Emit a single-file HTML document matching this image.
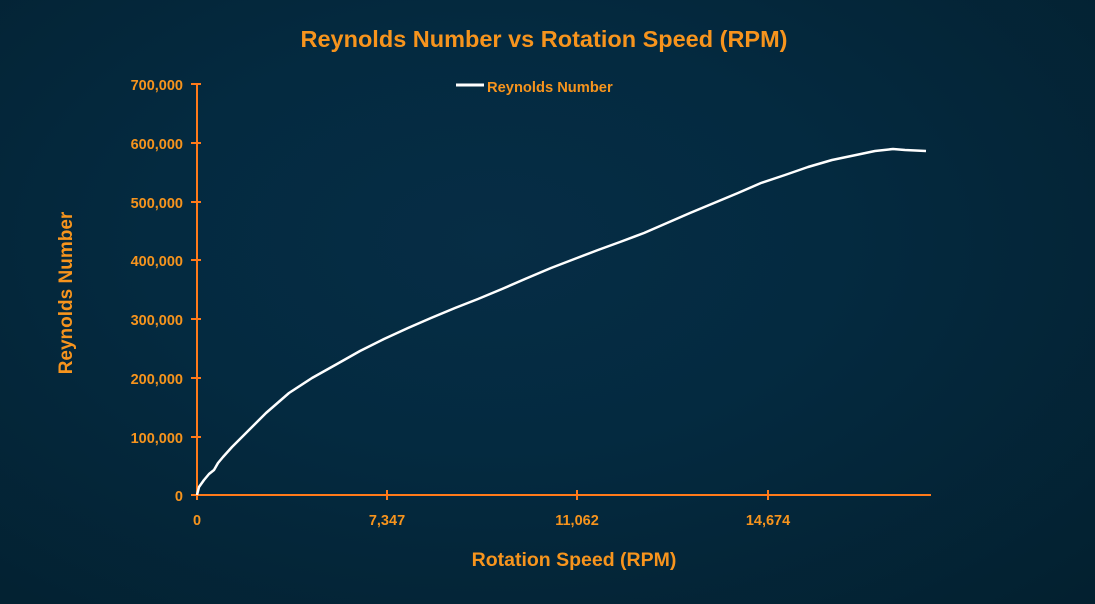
<!DOCTYPE html>
<html><head><meta charset="utf-8"><style>
html,body{margin:0;padding:0}
body{width:1095px;height:604px;overflow:hidden;background:radial-gradient(ellipse at 45% 40%,#062d45 0%,#042a40 40%,#03202f 100%);font-family:"Liberation Sans",sans-serif}
</style></head><body>
<svg width="1095" height="604" xmlns="http://www.w3.org/2000/svg" style="position:absolute;left:0;top:0">
<g font-family="Liberation Sans, sans-serif" font-weight="bold" fill="#f7941d">
<text x="544" y="47" font-size="23.5" text-anchor="middle">Reynolds Number vs Rotation Speed (RPM)</text>
<text x="574" y="566" font-size="19.5" text-anchor="middle">Rotation Speed (RPM)</text>
<text transform="translate(72,293) rotate(-90)" font-size="19" text-anchor="middle">Reynolds Number</text>
<g font-size="14.5" text-anchor="end">
<text x="183" y="90">700,000</text><text x="183" y="149">600,000</text><text x="183" y="208">500,000</text>
<text x="183" y="266">400,000</text><text x="183" y="325">300,000</text><text x="183" y="384">200,000</text>
<text x="183" y="443">100,000</text><text x="183" y="501">0</text>
</g>
<g font-size="14.5" text-anchor="middle">
<text x="197" y="525">0</text><text x="387" y="525">7,347</text><text x="577" y="525">11,062</text><text x="768" y="525">14,674</text>
</g>
<text x="487" y="92" font-size="14.7">Reynolds Number</text>
</g>
<line x1="456" y1="85" x2="484" y2="85" stroke="#fff" stroke-width="3"/>
<g stroke="#ff7a1a" stroke-width="2">
<line x1="197" y1="84" x2="197" y2="496"/>
<line x1="196" y1="495" x2="931" y2="495"/>
<line x1="191" y1="84" x2="201" y2="84"/><line x1="191" y1="143" x2="201" y2="143"/><line x1="191" y1="202" x2="201" y2="202"/><line x1="191" y1="260" x2="201" y2="260"/><line x1="191" y1="319" x2="201" y2="319"/><line x1="191" y1="378" x2="201" y2="378"/><line x1="191" y1="437" x2="201" y2="437"/><line x1="191" y1="495" x2="201" y2="495"/>
<line x1="197" y1="490" x2="197" y2="500"/><line x1="387" y1="490" x2="387" y2="500"/><line x1="577" y1="490" x2="577" y2="500"/><line x1="768" y1="490" x2="768" y2="500"/>
</g>
<path d="M197,495 L199,487 L204,480 L209,474 L214,470 L218,463 L223,457 L232,447 L242,437 L254,425 L266,413 L289,393 L312,378 L337,364 L360,351 L384,339 L408,328 L431,318 L455,308 L478,299 L502,289 L525,279 L551,268 L577,258 L598,250 L620,242 L644,233 L667,223 L690,213 L714,203 L738,193 L761,183 L785,175 L808,167 L832,160 L856,155 L875,151 L893,149 L905,150 L926,151" fill="none" stroke="#fff" stroke-width="2.5" stroke-linejoin="round"/>
</svg>
</body></html>
